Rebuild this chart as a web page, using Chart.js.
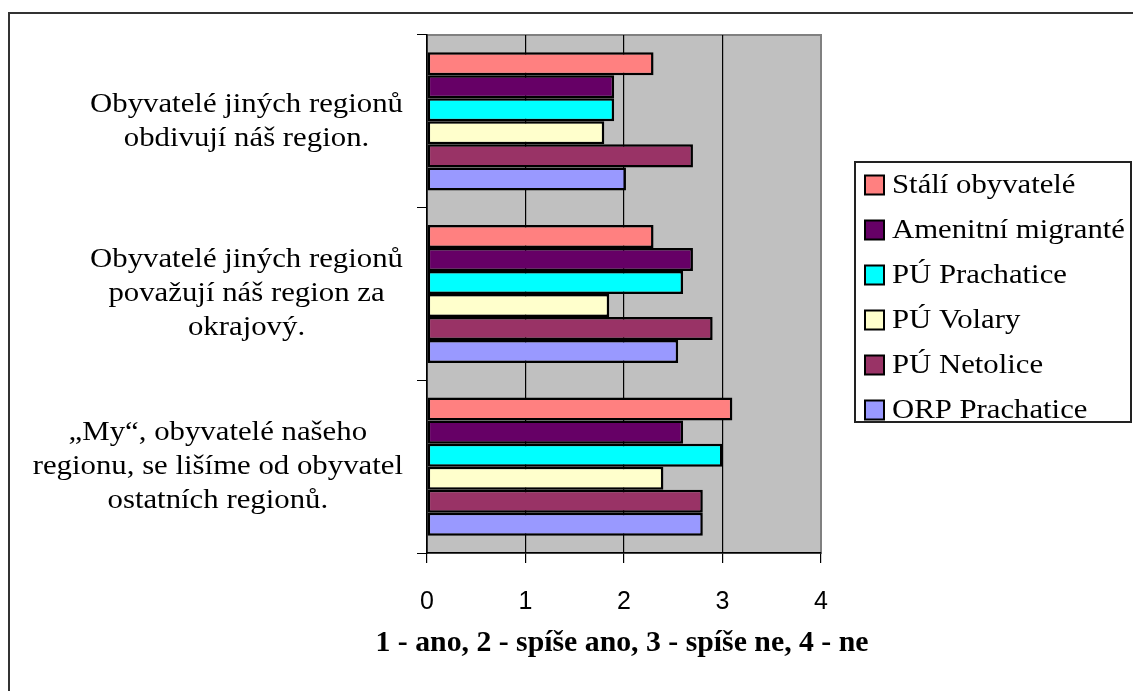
<!DOCTYPE html>
<html>
<head>
<meta charset="utf-8">
<script src="https://cdn.jsdelivr.net/npm/chart.js@4/dist/chart.umd.min.js"></script>
<style>
  html, body { margin: 0; padding: 0; background: #ffffff; }
  #wrap { width: 1133px; height: 691px; position: relative; }
</style>
</head>
<body>
<div id="wrap"><canvas id="barChart" width="1133" height="691"></canvas></div>
<script>
// Categories (top to bottom)
const categories = [
  ["Obyvatelé jiných regionů", "obdivují náš region."],
  ["Obyvatelé jiných regionů", "považují náš region za", "okrajový."],
  ["„My“, obyvatelé našeho", "regionu, se lišíme od obyvatel", "ostatních regionů."]
];

// Series names and values (one value per category)
const seriesNames = ["Stálí obyvatelé", "Amenitní migranté", "PÚ Prachatice", "PÚ Volary", "PÚ Netolice", "ORP Prachatice"];
const staliObyvatele = [2.3, 2.3, 3.1];
const amenitniMigrante = [1.9, 2.7, 2.6];
const puPrachatice = [1.9, 2.6, 3.0];
const puVolary = [1.8, 1.85, 2.4];
const puNetolice = [2.7, 2.9, 2.8];
const orpPrachatice = [2.02, 2.55, 2.8];
const seriesColors = ["#FF8080", "#660066", "#00FFFF", "#FFFFCC", "#993366", "#9999FF"];

// Axis
const xTicks = [0, 1, 2, 3, 4];
const xTitle = "1 - ano, 2 - spíše ano, 3 - spíše ne, 4 - ne";

const SERIF = "'Liberation Serif', 'Times New Roman', serif";
const SANS = "'Liberation Sans', Arial, sans-serif";

const seriesValues = [staliObyvatele, amenitniMigrante, puPrachatice, puVolary, puNetolice, orpPrachatice];

// draw text squeezed/stretched horizontally around its anchor
function stretchedText(ctx, text, x, y, sx) {
  ctx.save();
  ctx.translate(x, y);
  ctx.scale(sx, 1);
  ctx.fillText(text, 0, 0);
  ctx.restore();
}

// Gray plot area + outer frame
const backgroundPlugin = {
  id: "plotBackground",
  beforeDraw(chart) {
    const { ctx, chartArea: a } = chart;
    ctx.save();
    ctx.fillStyle = "#ffffff";
    ctx.fillRect(0, 0, chart.width, chart.height);
    ctx.strokeStyle = "#333333";
    ctx.lineWidth = 2;
    ctx.strokeRect(9, 13, chart.width + 20, chart.height + 20);
    ctx.fillStyle = "#C0C0C0";
    ctx.fillRect(a.left, a.top, a.right - a.left, a.bottom - a.top);
    ctx.strokeStyle = "#808080";
    ctx.lineWidth = 2;
    ctx.strokeRect(a.left, a.top, a.right - a.left, a.bottom - a.top);
    ctx.restore();
  }
};

// Category labels: each block right aligned, lines centered inside the block
const categoryLabelPlugin = {
  id: "categoryLabels",
  afterDraw(chart) {
    const { ctx } = chart;
    const yScale = chart.scales.y;
    const rightEdge = yScale.right - 24; // tick mark + gap
    const lineHeight = 34;
    ctx.save();
    ctx.font = "28px " + SERIF;
    ctx.fillStyle = "#000000";
    ctx.textAlign = "center";
    ctx.textBaseline = "middle";
    // reference text runs a little wider than Times: "Obyvatelé jiných regionů" is ~313px
    const sx = 313 / ctx.measureText(categories[0][0]).width;
    categories.forEach((lines, i) => {
      const centerY = yScale.getPixelForValue(i);
      const blockWidth = Math.max(...lines.map(l => ctx.measureText(l).width)) * sx;
      const centerX = rightEdge - blockWidth / 2;
      const startY = centerY - (lines.length - 1) * lineHeight / 2;
      lines.forEach((line, j) => {
        stretchedText(ctx, line, centerX, startY + j * lineHeight, sx);
      });
    });
    ctx.restore();
  }
};

// Bold axis title under the tick numbers
const axisTitlePlugin = {
  id: "axisTitle",
  afterDraw(chart) {
    const { ctx, chartArea: a } = chart;
    ctx.save();
    ctx.font = "bold 30px " + SERIF;
    ctx.fillStyle = "#000000";
    ctx.textAlign = "center";
    ctx.textBaseline = "middle";
    const sx = 493 / ctx.measureText(xTitle).width;
    stretchedText(ctx, xTitle, (a.left + a.right) / 2 - 2, 643, sx);
    ctx.restore();
  }
};

// Legend drawn in a framed box on the right
const legendBoxPlugin = {
  id: "legendBox",
  afterDraw(chart) {
    const { ctx } = chart;
    const box = { left: 855, top: 162, right: 1131, bottom: 422 };
    const rowGap = 45;
    ctx.save();
    ctx.strokeStyle = "#222222";
    ctx.lineWidth = 2;
    ctx.strokeRect(box.left, box.top, box.right - box.left, box.bottom - box.top);
    ctx.font = "28px " + SERIF;
    ctx.textBaseline = "middle";
    ctx.textAlign = "left";
    const sx = 233 / ctx.measureText(seriesNames[1]).width;
    chart.data.datasets.forEach((ds, i) => {
      const cy = 185 + i * rowGap;
      ctx.fillStyle = ds.backgroundColor;
      ctx.fillRect(865, cy - 9.5, 19, 19);
      ctx.strokeStyle = "#000000";
      ctx.lineWidth = 2;
      ctx.strokeRect(865, cy - 9.5, 19, 19);
      ctx.fillStyle = "#000000";
      stretchedText(ctx, ds.label, 892, cy + 1, sx);
    });
    ctx.restore();
  }
};

const ctx = document.getElementById("barChart").getContext("2d");

const barChart = new Chart(ctx, {
  type: "bar",
  data: {
    labels: categories,
    datasets: seriesNames.map((name, i) => ({
      label: name,
      data: seriesValues[i],
      backgroundColor: seriesColors[i],
      borderColor: "#000000",
      borderWidth: 2.5,
      borderSkipped: false,
      categoryPercentage: 0.8,
      barPercentage: 1.0
    }))
  },
  options: {
    indexAxis: "y",
    responsive: false,
    animation: false,
    layout: {
      padding: { left: 417, right: 312, top: 35, bottom: 15 }
    },
    plugins: {
      legend: { display: false },
      tooltip: { enabled: false }
    },
    scales: {
      x: {
        min: 0,
        max: 4,
        afterBuildTicks: (scale) => {
          scale.ticks = xTicks.map(v => ({ value: v }));
        },
        afterFit: (scale) => {
          scale.height = 123; // room for the numbers and the bold title
        },
        grid: {
          color: (c) => (c.tick && c.tick.value === 4 ? "#808080" : "#000000"),
          lineWidth: 1.2,
          tickColor: "#000000",
          tickLength: 10,
          drawOnChartArea: true
        },
        border: { display: true, color: "#000000", width: 1.5 },
        ticks: {
          padding: 24,
          color: "#000000",
          font: { family: SANS, size: 25 }
        }
      },
      y: {
        offset: true,
        grid: {
          offset: true,
          drawOnChartArea: false,
          color: "#000000",
          tickLength: 10
        },
        border: { display: true, color: "#000000", width: 1.5 },
        ticks: { display: false }
      }
    }
  },
  plugins: [backgroundPlugin, categoryLabelPlugin, axisTitlePlugin, legendBoxPlugin]
});
</script>
</body>
</html>
